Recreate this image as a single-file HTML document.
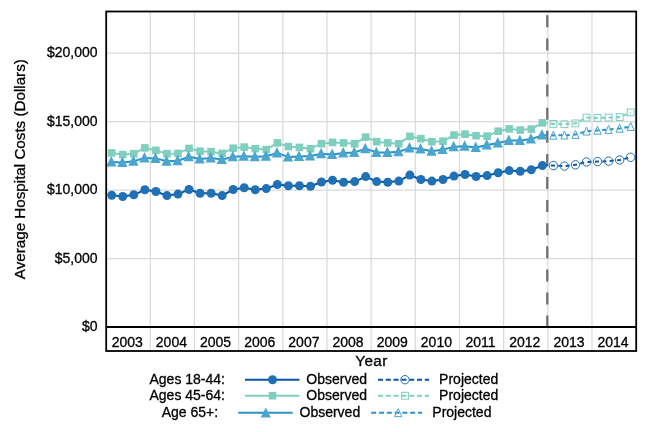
<!DOCTYPE html>
<html><head><meta charset="utf-8"><title>Average Hospital Costs</title>
<style>html,body{margin:0;padding:0;background:#fff}svg{display:block}text{stroke:#000;stroke-width:0.3px;paint-order:stroke}</style></head>
<body>
<svg width="648" height="432" viewBox="0 0 648 432" font-family="'Liberation Sans', Arial, sans-serif" font-size="14" fill="#000"><g stroke="none">
<rect width="648" height="432" fill="#fff"/>
<path d="M150.32 11.5V351.0M194.48 11.5V351.0M238.65 11.5V351.0M282.82 11.5V351.0M326.98 11.5V351.0M371.15 11.5V351.0M415.32 11.5V351.0M459.48 11.5V351.0M503.65 11.5V351.0M547.82 11.5V351.0M591.98 11.5V351.0M106.2 258.60H636.2M106.2 190.10H636.2M106.2 121.60H636.2M106.2 53.10H636.2" stroke="#dadada" stroke-width="1.25" fill="none"/>
<path d="M547.27 15.3V327.0" stroke="#707070" stroke-width="2.3" stroke-dasharray="12 11.1" fill="none"/>
<polyline points="111.72,195.30 122.76,196.50 133.80,194.80 144.85,189.80 155.89,191.50 166.93,195.60 177.97,194.10 189.01,189.50 200.05,193.30 211.10,193.30 222.14,195.60 233.18,189.50 244.22,187.80 255.26,189.80 266.30,188.60 277.35,184.50 288.39,185.80 299.43,185.80 310.47,186.30 321.51,182.00 332.55,180.30 343.60,182.30 354.64,181.60 365.68,176.60 376.72,181.60 387.76,182.30 398.80,181.10 409.85,175.10 420.89,179.50 431.93,181.10 442.97,179.50 454.01,176.10 465.05,174.50 476.10,176.50 487.14,175.60 498.18,172.80 509.22,170.60 520.26,171.30 531.30,169.80 542.35,165.60" fill="none" stroke="#0a52a6" stroke-width="2" stroke-linejoin="round"/>
<polyline points="542.35,165.60 553.39,165.60 564.43,166.10 575.47,164.80 586.51,162.00 597.55,161.60 608.60,161.10 619.64,160.00 630.68,157.30" fill="none" stroke="#0a52a6" stroke-width="2" stroke-dasharray="4 3.4" stroke-dashoffset="-1.2"/>
<circle cx="111.72" cy="195.30" r="4.5" fill="#1f70b5"/><circle cx="122.76" cy="196.50" r="4.5" fill="#1f70b5"/><circle cx="133.80" cy="194.80" r="4.5" fill="#1f70b5"/><circle cx="144.85" cy="189.80" r="4.5" fill="#1f70b5"/><circle cx="155.89" cy="191.50" r="4.5" fill="#1f70b5"/><circle cx="166.93" cy="195.60" r="4.5" fill="#1f70b5"/><circle cx="177.97" cy="194.10" r="4.5" fill="#1f70b5"/><circle cx="189.01" cy="189.50" r="4.5" fill="#1f70b5"/><circle cx="200.05" cy="193.30" r="4.5" fill="#1f70b5"/><circle cx="211.10" cy="193.30" r="4.5" fill="#1f70b5"/><circle cx="222.14" cy="195.60" r="4.5" fill="#1f70b5"/><circle cx="233.18" cy="189.50" r="4.5" fill="#1f70b5"/><circle cx="244.22" cy="187.80" r="4.5" fill="#1f70b5"/><circle cx="255.26" cy="189.80" r="4.5" fill="#1f70b5"/><circle cx="266.30" cy="188.60" r="4.5" fill="#1f70b5"/><circle cx="277.35" cy="184.50" r="4.5" fill="#1f70b5"/><circle cx="288.39" cy="185.80" r="4.5" fill="#1f70b5"/><circle cx="299.43" cy="185.80" r="4.5" fill="#1f70b5"/><circle cx="310.47" cy="186.30" r="4.5" fill="#1f70b5"/><circle cx="321.51" cy="182.00" r="4.5" fill="#1f70b5"/><circle cx="332.55" cy="180.30" r="4.5" fill="#1f70b5"/><circle cx="343.60" cy="182.30" r="4.5" fill="#1f70b5"/><circle cx="354.64" cy="181.60" r="4.5" fill="#1f70b5"/><circle cx="365.68" cy="176.60" r="4.5" fill="#1f70b5"/><circle cx="376.72" cy="181.60" r="4.5" fill="#1f70b5"/><circle cx="387.76" cy="182.30" r="4.5" fill="#1f70b5"/><circle cx="398.80" cy="181.10" r="4.5" fill="#1f70b5"/><circle cx="409.85" cy="175.10" r="4.5" fill="#1f70b5"/><circle cx="420.89" cy="179.50" r="4.5" fill="#1f70b5"/><circle cx="431.93" cy="181.10" r="4.5" fill="#1f70b5"/><circle cx="442.97" cy="179.50" r="4.5" fill="#1f70b5"/><circle cx="454.01" cy="176.10" r="4.5" fill="#1f70b5"/><circle cx="465.05" cy="174.50" r="4.5" fill="#1f70b5"/><circle cx="476.10" cy="176.50" r="4.5" fill="#1f70b5"/><circle cx="487.14" cy="175.60" r="4.5" fill="#1f70b5"/><circle cx="498.18" cy="172.80" r="4.5" fill="#1f70b5"/><circle cx="509.22" cy="170.60" r="4.5" fill="#1f70b5"/><circle cx="520.26" cy="171.30" r="4.5" fill="#1f70b5"/><circle cx="531.30" cy="169.80" r="4.5" fill="#1f70b5"/><circle cx="542.35" cy="165.60" r="4.5" fill="#1f70b5"/><circle cx="553.39" cy="165.60" r="4.2" fill="none" stroke="#1f70b5" stroke-width="1"/><circle cx="564.43" cy="166.10" r="4.2" fill="none" stroke="#1f70b5" stroke-width="1"/><circle cx="575.47" cy="164.80" r="4.2" fill="none" stroke="#1f70b5" stroke-width="1"/><circle cx="586.51" cy="162.00" r="4.2" fill="none" stroke="#1f70b5" stroke-width="1"/><circle cx="597.55" cy="161.60" r="4.2" fill="none" stroke="#1f70b5" stroke-width="1"/><circle cx="608.60" cy="161.10" r="4.2" fill="none" stroke="#1f70b5" stroke-width="1"/><circle cx="619.64" cy="160.00" r="4.2" fill="none" stroke="#1f70b5" stroke-width="1"/><circle cx="630.68" cy="157.30" r="4.2" fill="none" stroke="#1f70b5" stroke-width="1"/>
<polyline points="111.72,152.90 122.76,154.60 133.80,153.70 144.85,147.90 155.89,150.40 166.93,153.70 177.97,153.40 189.01,148.40 200.05,151.20 211.10,151.70 222.14,153.40 233.18,148.20 244.22,147.10 255.26,148.70 266.30,149.60 277.35,142.90 288.39,146.60 299.43,147.40 310.47,148.70 321.51,143.70 332.55,142.40 343.60,142.90 354.64,143.70 365.68,137.10 376.72,141.70 387.76,142.90 398.80,143.70 409.85,136.40 420.89,138.70 431.93,141.70 442.97,141.20 454.01,135.10 465.05,134.20 476.10,135.70 487.14,136.20 498.18,131.20 509.22,128.90 520.26,130.10 531.30,129.10 542.35,122.90" fill="none" stroke="#7fcfbf" stroke-width="2" stroke-linejoin="round"/>
<polyline points="542.35,122.90 553.39,123.90 564.43,124.20 575.47,123.40 586.51,117.60 597.55,117.90 608.60,117.60 619.64,117.10 630.68,112.40" fill="none" stroke="#7fcfbf" stroke-width="2" stroke-dasharray="4 3.4" stroke-dashoffset="-1.2"/>
<rect x="107.92" y="149.10" width="7.6" height="7.6" fill="#7fcfbf"/><rect x="118.96" y="150.80" width="7.6" height="7.6" fill="#7fcfbf"/><rect x="130.00" y="149.90" width="7.6" height="7.6" fill="#7fcfbf"/><rect x="141.05" y="144.10" width="7.6" height="7.6" fill="#7fcfbf"/><rect x="152.09" y="146.60" width="7.6" height="7.6" fill="#7fcfbf"/><rect x="163.13" y="149.90" width="7.6" height="7.6" fill="#7fcfbf"/><rect x="174.17" y="149.60" width="7.6" height="7.6" fill="#7fcfbf"/><rect x="185.21" y="144.60" width="7.6" height="7.6" fill="#7fcfbf"/><rect x="196.25" y="147.40" width="7.6" height="7.6" fill="#7fcfbf"/><rect x="207.30" y="147.90" width="7.6" height="7.6" fill="#7fcfbf"/><rect x="218.34" y="149.60" width="7.6" height="7.6" fill="#7fcfbf"/><rect x="229.38" y="144.40" width="7.6" height="7.6" fill="#7fcfbf"/><rect x="240.42" y="143.30" width="7.6" height="7.6" fill="#7fcfbf"/><rect x="251.46" y="144.90" width="7.6" height="7.6" fill="#7fcfbf"/><rect x="262.50" y="145.80" width="7.6" height="7.6" fill="#7fcfbf"/><rect x="273.55" y="139.10" width="7.6" height="7.6" fill="#7fcfbf"/><rect x="284.59" y="142.80" width="7.6" height="7.6" fill="#7fcfbf"/><rect x="295.63" y="143.60" width="7.6" height="7.6" fill="#7fcfbf"/><rect x="306.67" y="144.90" width="7.6" height="7.6" fill="#7fcfbf"/><rect x="317.71" y="139.90" width="7.6" height="7.6" fill="#7fcfbf"/><rect x="328.75" y="138.60" width="7.6" height="7.6" fill="#7fcfbf"/><rect x="339.80" y="139.10" width="7.6" height="7.6" fill="#7fcfbf"/><rect x="350.84" y="139.90" width="7.6" height="7.6" fill="#7fcfbf"/><rect x="361.88" y="133.30" width="7.6" height="7.6" fill="#7fcfbf"/><rect x="372.92" y="137.90" width="7.6" height="7.6" fill="#7fcfbf"/><rect x="383.96" y="139.10" width="7.6" height="7.6" fill="#7fcfbf"/><rect x="395.00" y="139.90" width="7.6" height="7.6" fill="#7fcfbf"/><rect x="406.05" y="132.60" width="7.6" height="7.6" fill="#7fcfbf"/><rect x="417.09" y="134.90" width="7.6" height="7.6" fill="#7fcfbf"/><rect x="428.13" y="137.90" width="7.6" height="7.6" fill="#7fcfbf"/><rect x="439.17" y="137.40" width="7.6" height="7.6" fill="#7fcfbf"/><rect x="450.21" y="131.30" width="7.6" height="7.6" fill="#7fcfbf"/><rect x="461.25" y="130.40" width="7.6" height="7.6" fill="#7fcfbf"/><rect x="472.30" y="131.90" width="7.6" height="7.6" fill="#7fcfbf"/><rect x="483.34" y="132.40" width="7.6" height="7.6" fill="#7fcfbf"/><rect x="494.38" y="127.40" width="7.6" height="7.6" fill="#7fcfbf"/><rect x="505.42" y="125.10" width="7.6" height="7.6" fill="#7fcfbf"/><rect x="516.46" y="126.30" width="7.6" height="7.6" fill="#7fcfbf"/><rect x="527.50" y="125.30" width="7.6" height="7.6" fill="#7fcfbf"/><rect x="538.55" y="119.10" width="7.6" height="7.6" fill="#7fcfbf"/><rect x="549.99" y="120.50" width="6.8" height="6.8" fill="none" stroke="#7fcfbf" stroke-width="1"/><rect x="561.03" y="120.80" width="6.8" height="6.8" fill="none" stroke="#7fcfbf" stroke-width="1"/><rect x="572.07" y="120.00" width="6.8" height="6.8" fill="none" stroke="#7fcfbf" stroke-width="1"/><rect x="583.11" y="114.20" width="6.8" height="6.8" fill="none" stroke="#7fcfbf" stroke-width="1"/><rect x="594.15" y="114.50" width="6.8" height="6.8" fill="none" stroke="#7fcfbf" stroke-width="1"/><rect x="605.20" y="114.20" width="6.8" height="6.8" fill="none" stroke="#7fcfbf" stroke-width="1"/><rect x="616.24" y="113.70" width="6.8" height="6.8" fill="none" stroke="#7fcfbf" stroke-width="1"/><rect x="627.28" y="109.00" width="6.8" height="6.8" fill="none" stroke="#7fcfbf" stroke-width="1"/>
<polyline points="111.72,162.10 122.76,162.40 133.80,161.20 144.85,157.90 155.89,158.40 166.93,161.20 177.97,160.70 189.01,156.70 200.05,159.10 211.10,157.90 222.14,159.60 233.18,156.70 244.22,156.20 255.26,156.70 266.30,156.20 277.35,152.90 288.39,157.10 299.43,156.60 310.47,155.90 321.51,153.70 332.55,154.60 343.60,152.90 354.64,152.40 365.68,148.70 376.72,152.40 387.76,152.40 398.80,151.70 409.85,147.90 420.89,149.10 431.93,151.20 442.97,149.60 454.01,146.70 465.05,146.20 476.10,147.40 487.14,145.10 498.18,143.00 509.22,140.40 520.26,140.40 531.30,139.10 542.35,135.10" fill="none" stroke="#2c93ca" stroke-width="2" stroke-linejoin="round"/>
<polyline points="542.35,135.10 553.39,135.40 564.43,135.20 575.47,134.60 586.51,131.20 597.55,130.40 608.60,129.60 619.64,128.40 630.68,126.60" fill="none" stroke="#2c93ca" stroke-width="2" stroke-dasharray="4 3.4" stroke-dashoffset="-1.2"/>
<path d="M111.32 156.10L116.42 166.60H106.22Z" fill="#4aa5cf"/><path d="M122.36 156.40L127.46 166.90H117.26Z" fill="#4aa5cf"/><path d="M133.40 155.20L138.50 165.70H128.30Z" fill="#4aa5cf"/><path d="M144.45 151.90L149.55 162.40H139.35Z" fill="#4aa5cf"/><path d="M155.49 152.40L160.59 162.90H150.39Z" fill="#4aa5cf"/><path d="M166.53 155.20L171.63 165.70H161.43Z" fill="#4aa5cf"/><path d="M177.57 154.70L182.67 165.20H172.47Z" fill="#4aa5cf"/><path d="M188.61 150.70L193.71 161.20H183.51Z" fill="#4aa5cf"/><path d="M199.65 153.10L204.75 163.60H194.55Z" fill="#4aa5cf"/><path d="M210.70 151.90L215.80 162.40H205.60Z" fill="#4aa5cf"/><path d="M221.74 153.60L226.84 164.10H216.64Z" fill="#4aa5cf"/><path d="M232.78 150.70L237.88 161.20H227.68Z" fill="#4aa5cf"/><path d="M243.82 150.20L248.92 160.70H238.72Z" fill="#4aa5cf"/><path d="M254.86 150.70L259.96 161.20H249.76Z" fill="#4aa5cf"/><path d="M265.90 150.20L271.00 160.70H260.80Z" fill="#4aa5cf"/><path d="M276.95 146.90L282.05 157.40H271.85Z" fill="#4aa5cf"/><path d="M287.99 151.10L293.09 161.60H282.89Z" fill="#4aa5cf"/><path d="M299.03 150.60L304.13 161.10H293.93Z" fill="#4aa5cf"/><path d="M310.07 149.90L315.17 160.40H304.97Z" fill="#4aa5cf"/><path d="M321.11 147.70L326.21 158.20H316.01Z" fill="#4aa5cf"/><path d="M332.15 148.60L337.25 159.10H327.05Z" fill="#4aa5cf"/><path d="M343.20 146.90L348.30 157.40H338.10Z" fill="#4aa5cf"/><path d="M354.24 146.40L359.34 156.90H349.14Z" fill="#4aa5cf"/><path d="M365.28 142.70L370.38 153.20H360.18Z" fill="#4aa5cf"/><path d="M376.32 146.40L381.42 156.90H371.22Z" fill="#4aa5cf"/><path d="M387.36 146.40L392.46 156.90H382.26Z" fill="#4aa5cf"/><path d="M398.40 145.70L403.50 156.20H393.30Z" fill="#4aa5cf"/><path d="M409.45 141.90L414.55 152.40H404.35Z" fill="#4aa5cf"/><path d="M420.49 143.10L425.59 153.60H415.39Z" fill="#4aa5cf"/><path d="M431.53 145.20L436.63 155.70H426.43Z" fill="#4aa5cf"/><path d="M442.57 143.60L447.67 154.10H437.47Z" fill="#4aa5cf"/><path d="M453.61 140.70L458.71 151.20H448.51Z" fill="#4aa5cf"/><path d="M464.65 140.20L469.75 150.70H459.55Z" fill="#4aa5cf"/><path d="M475.70 141.40L480.80 151.90H470.60Z" fill="#4aa5cf"/><path d="M486.74 139.10L491.84 149.60H481.64Z" fill="#4aa5cf"/><path d="M497.78 137.00L502.88 147.50H492.68Z" fill="#4aa5cf"/><path d="M508.82 134.40L513.92 144.90H503.72Z" fill="#4aa5cf"/><path d="M519.86 134.40L524.96 144.90H514.76Z" fill="#4aa5cf"/><path d="M530.90 133.10L536.00 143.60H525.80Z" fill="#4aa5cf"/><path d="M541.95 129.10L547.05 139.60H536.85Z" fill="#4aa5cf"/><path d="M553.39 131.20L556.99 139.20H549.79Z" fill="none" stroke="#4aa5cf" stroke-width="1"/><path d="M564.43 131.00L568.03 139.00H560.83Z" fill="none" stroke="#4aa5cf" stroke-width="1"/><path d="M575.47 130.40L579.07 138.40H571.87Z" fill="none" stroke="#4aa5cf" stroke-width="1"/><path d="M586.51 127.00L590.11 135.00H582.91Z" fill="none" stroke="#4aa5cf" stroke-width="1"/><path d="M597.55 126.20L601.15 134.20H593.95Z" fill="none" stroke="#4aa5cf" stroke-width="1"/><path d="M608.60 125.40L612.20 133.40H605.00Z" fill="none" stroke="#4aa5cf" stroke-width="1"/><path d="M619.64 124.20L623.24 132.20H616.04Z" fill="none" stroke="#4aa5cf" stroke-width="1"/><path d="M630.68 122.40L634.28 130.40H627.08Z" fill="none" stroke="#4aa5cf" stroke-width="1"/>
<path d="M106.2 327.0H636.2" stroke="#000" stroke-width="1.8" fill="none"/>
<rect x="106.2" y="11.5" width="530.0" height="339.5" fill="none" stroke="#000" stroke-width="1.8"/>
<text x="97.5" y="331.3" text-anchor="end">$0</text>
<text x="97.5" y="262.8" text-anchor="end">$5,000</text>
<text x="97.5" y="194.3" text-anchor="end">$10,000</text>
<text x="97.5" y="125.8" text-anchor="end">$15,000</text>
<text x="97.5" y="57.3" text-anchor="end">$20,000</text>
<text x="127.3" y="346.8" text-anchor="middle">2003</text>
<text x="171.4" y="346.8" text-anchor="middle">2004</text>
<text x="215.6" y="346.8" text-anchor="middle">2005</text>
<text x="259.8" y="346.8" text-anchor="middle">2006</text>
<text x="303.9" y="346.8" text-anchor="middle">2007</text>
<text x="348.1" y="346.8" text-anchor="middle">2008</text>
<text x="392.3" y="346.8" text-anchor="middle">2009</text>
<text x="436.4" y="346.8" text-anchor="middle">2010</text>
<text x="480.6" y="346.8" text-anchor="middle">2011</text>
<text x="524.8" y="346.8" text-anchor="middle">2012</text>
<text x="569.0" y="346.8" text-anchor="middle">2013</text>
<text x="613.1" y="346.8" text-anchor="middle">2014</text>
<text x="371.5" y="366" text-anchor="middle" font-size="15.3" letter-spacing="0.4">Year</text>
<text transform="translate(25 169.2) rotate(-90)" text-anchor="middle" font-size="15.2">Average Hospital Costs (Dollars)</text>
<text x="225" y="384.0" text-anchor="end">Ages 18-44:</text>
<path d="M245 379.7H299.5" stroke="#0a52a6" stroke-width="2"/>
<circle cx="272.5" cy="379.7" r="4.5" fill="#1f70b5"/>
<text x="306.3" y="384.0">Observed</text>
<path d="M378 379.7H429" stroke="#0a52a6" stroke-width="2" stroke-dasharray="5 2.8"/>
<circle cx="405" cy="379.7" r="4.2" fill="none" stroke="#1f70b5"/>
<text x="439.1" y="384.0">Projected</text>
<text x="225" y="400.0" text-anchor="end">Ages 45-64:</text>
<path d="M245 395.7H299.5" stroke="#7fcfbf" stroke-width="2"/>
<rect x="268.7" y="391.9" width="7.6" height="7.6" fill="#7fcfbf"/>
<text x="306.3" y="400.0">Observed</text>
<path d="M378 395.7H429" stroke="#7fcfbf" stroke-width="2" stroke-dasharray="5 2.8"/>
<rect x="401.6" y="392.3" width="6.8" height="6.8" fill="none" stroke="#7fcfbf"/>
<text x="439.1" y="400.0">Projected</text>
<text x="218.2" y="417.1" text-anchor="end">Age 65+:</text>
<path d="M238.2 412.8H292.7" stroke="#2c93ca" stroke-width="2"/>
<path d="M265.7 407.5L270.8 417.5H260.59999999999997Z" fill="#4aa5cf"/>
<text x="299.5" y="417.1">Observed</text>
<path d="M371.2 412.8H422.2" stroke="#2c93ca" stroke-width="2" stroke-dasharray="5 2.8"/>
<path d="M398.2 408.6L401.8 416.6H394.59999999999997Z" fill="none" stroke="#4aa5cf"/>
<text x="432.3" y="417.1">Projected</text>
</g></svg>
</body></html>
